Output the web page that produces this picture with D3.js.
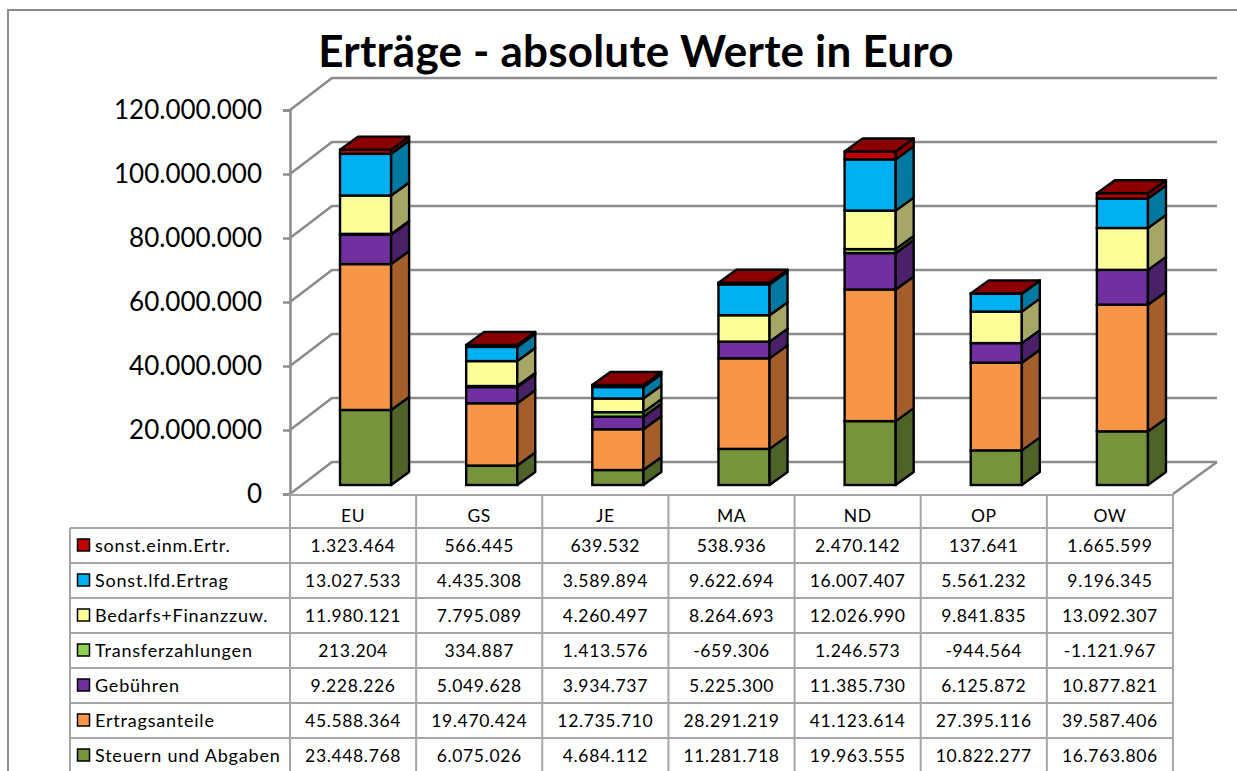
<!DOCTYPE html>
<html>
<head>
<meta charset="utf-8">
<script src="https://cdn.jsdelivr.net/npm/d3@7"></script>
<style>
  body { margin: 0; background: #fff; }
  svg { display: block; font-family: Lato, "Open Sans", sans-serif; }
</style>
</head>
<body>
<svg width="1237" height="771"></svg>
<script>
// categories and series, bottom of the stack first
const categories = ["EU", "GS", "JE", "MA", "ND", "OP", "OW"];
const steuern = [23448768, 6075026, 4684112, 11281718, 19963555, 10822277, 16763806];
const ertragsanteile = [45588364, 19470424, 12735710, 28291219, 41123614, 27395116, 39587406];
const gebuehren = [9228226, 5049628, 3934737, 5225300, 11385730, 6125872, 10877821];
const transfer = [213204, 334887, 1413576, -659306, 1246573, -944564, -1121967];
const bedarf = [11980121, 7795089, 4260497, 8264693, 12026990, 9841835, 13092307];
const sonstLfd = [13027533, 4435308, 3589894, 9622694, 16007407, 5561232, 9196345];
const sonstEinm = [1323464, 566445, 639532, 538936, 2470142, 137641, 1665599];
const seriesNames = ["Steuern und Abgaben", "Ertragsanteile", "Gebühren", "Transferzahlungen", "Bedarfs+Finanzzuw.", "Sonst.lfd.Ertrag", "sonst.einm.Ertr."];
const seriesValues = [steuern, ertragsanteile, gebuehren, transfer, bedarf, sonstLfd, sonstEinm];
const frontColors = ["#77933C", "#F79646", "#7030A0", "#92D050", "#FFFF99", "#00B0F0", "#C00000"];
const sideColors = ["#4F6228", "#A35E2B", "#4A2069", "#618A35", "#A6A666", "#0078A0", "#8B0000"];
const yTicks = [0, 20000000, 40000000, 60000000, 80000000, 100000000, 120000000];

const grey = "#8C8C8C";
const svg = d3.select("svg");
const de = d3.formatLocale({ decimal: ",", thousands: ".", grouping: [3], currency: ["", "€"], minus: "-" });
const fmt = de.format(",d");

// outer frame, runs off the picture on the right and at the bottom
svg.append("path")
  .attr("d", "M8,771V10H1237")
  .attr("fill", "none")
  .attr("stroke", grey)
  .attr("stroke-width", 2);

svg.append("text")
  .attr("x", 636)
  .attr("y", 67)
  .attr("text-anchor", "middle")
  .attr("font-size", 44)
  .attr("font-weight", 700)
  .attr("letter-spacing", 0.2)
  .text("Erträge - absolute Werte in Euro");

// scales
const y = d3.scaleLinear().domain([0, 120000000]).range([494, 110]);
const tableX = d3.scaleBand().domain(categories).range([290, 1173]);
const depth = { x: 42, y: -32 };
const barDepth = { x: 18, y: -13 };
const barX = d3.scaleBand().domain(categories).range([290 + 12.5, 1173 + 12.5]).paddingInner(0.595).paddingOuter(0.2975);
const barLift = 9;

// walls and floor
const grid = svg.append("g").attr("fill", "none").attr("stroke", grey).attr("stroke-width", 2.5);
yTicks.forEach(t => {
  grid.append("path")
    .attr("d", `M290,${y(t)}L${290 + depth.x},${y(t) + depth.y}H1217`);
});
grid.append("path").attr("d", `M1217,${y(0) + depth.y}L1173,${y(0)}`);

// y axis
const yAxis = d3.axisLeft(y)
  .tickValues(yTicks)
  .tickFormat(fmt)
  .tickSize(7)
  .tickPadding(21);
const axisG = svg.append("g").attr("transform", "translate(290,0)").call(yAxis);
axisG.selectAll("path,line").attr("stroke", grey).attr("stroke-width", 2.5);
axisG.selectAll("text").attr("font-size", 26).attr("font-family", "Lato, sans-serif").attr("fill", "#000");

// stacked columns
categories.forEach((cat, i) => {
  let base = 0;
  const g = svg.append("g");
  const x0 = barX(cat);
  const x1 = x0 + barX.bandwidth();
  let topY = null;
  seriesValues.forEach((vals, s) => {
    const v = Math.max(0, vals[i]);
    const yb = y(base) - barLift;
    const yt = y(base + v) - barLift;
    g.append("rect")
      .attr("x", x0)
      .attr("y", yt)
      .attr("width", x1 - x0)
      .attr("height", yb - yt)
      .attr("fill", frontColors[s])
      .attr("stroke", "#000")
      .attr("stroke-width", 2.4);
    g.append("path")
      .attr("d", `M${x1},${yb}L${x1 + barDepth.x},${yb + barDepth.y}V${yt + barDepth.y}L${x1},${yt}Z`)
      .attr("fill", sideColors[s])
      .attr("stroke", "#000")
      .attr("stroke-width", 2.4)
      .attr("stroke-linejoin", "round");
    base += v;
    topY = yt;
  });
  g.append("path")
    .attr("d", `M${x0},${topY}L${x0 + barDepth.x},${topY + barDepth.y}H${x1 + barDepth.x}L${x1},${topY}Z`)
    .attr("fill", sideColors[6])
    .attr("stroke", "#000")
    .attr("stroke-width", 2.4)
    .attr("stroke-linejoin", "round");
});

// data table below the plot, top row of the table is the last series
const rowY = d3.scaleBand().domain(d3.range(8)).range([493, 773]);
const rows = d3.range(7).map(r => 6 - r);
const table = svg.append("g");
const tableLines = table.append("g").attr("stroke", "#A6A6A6").attr("stroke-width", 2).attr("fill", "none");

tableLines.append("line").attr("x1", 290).attr("x2", 1173).attr("y1", 495).attr("y2", 495);
d3.range(1, 8).forEach(r => {
  const yy = rowY(r);
  tableLines.append("line")
    .attr("x1", 70).attr("x2", 1173)
    .attr("y1", yy).attr("y2", yy);
});
categories.concat("end").forEach(c => {
  const xx = c === "end" ? 1173 : tableX(c);
  tableLines.append("line").attr("x1", xx).attr("x2", xx).attr("y1", 494).attr("y2", 771);
});
tableLines.append("line").attr("x1", 70).attr("x2", 70).attr("y1", rowY(1)).attr("y2", 771);

categories.forEach(c => {
  table.append("text")
    .attr("x", tableX(c) + tableX.bandwidth() / 2)
    .attr("y", rowY(0) + rowY.bandwidth() / 2 + 5)
    .attr("dy", "0.36em")
    .attr("text-anchor", "middle")
    .attr("font-size", 17.5)
    .attr("letter-spacing", 0.5)
    .text(c);
});

rows.forEach((s, r) => {
  const cy = rowY(r + 1) + rowY.bandwidth() / 2;
  table.append("rect")
    .attr("x", 77.5).attr("y", cy - 6.5)
    .attr("width", 12).attr("height", 12)
    .attr("fill", frontColors[s])
    .attr("stroke", "#000")
    .attr("stroke-width", 1.5);
  table.append("text")
    .attr("x", 95).attr("y", cy)
    .attr("dy", "0.36em")
    .attr("font-size", 18)
    .attr("letter-spacing", 0.8)
    .text(seriesNames[s]);
  categories.forEach((c, i) => {
    table.append("text")
      .attr("x", tableX(c) + tableX.bandwidth() / 2)
      .attr("y", cy)
      .attr("dy", "0.36em")
      .attr("text-anchor", "middle")
      .attr("font-size", 17.5)
      .attr("letter-spacing", 0.65)
      .text(fmt(seriesValues[s][i]));
  });
});
</script>
</body>
</html>
